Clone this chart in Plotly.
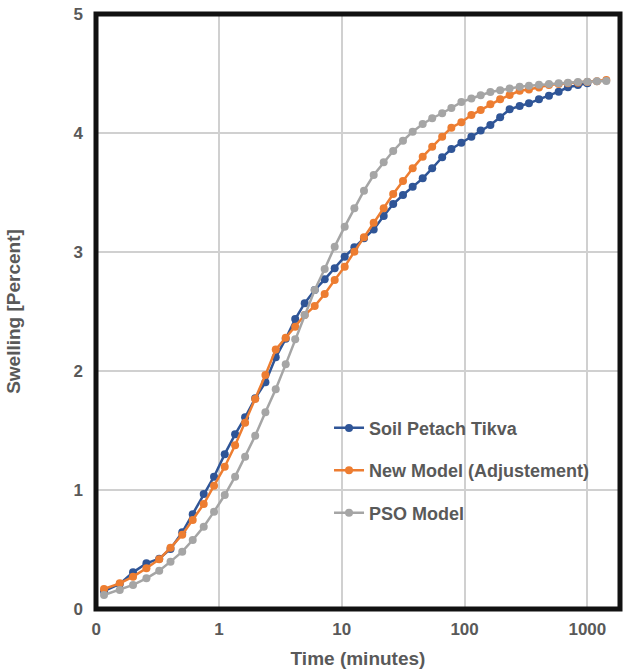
import plotly.graph_objects as go

# Time points (minutes)
time_min = [0.1157, 0.1554, 0.1994, 0.2563, 0.3258, 0.4027, 0.5017, 0.6107, 0.7506, 0.9106,
            1.113, 1.352, 1.631, 1.971, 2.387, 2.896, 3.493, 4.174, 4.988, 6.017,
            7.256, 8.753, 10.56, 12.66, 15.16, 18.19, 21.94, 26.22, 31.51, 37.79,
            45.60, 54.49, 65.70, 78.07, 94.17, 113.6, 135.3, 162.3, 194.9, 232.9,
            281.0, 334.5, 403.6, 486.8, 584.0, 695.1, 838.3, 1000, 1197, 1428]

soil = [0.15, 0.21, 0.308, 0.384, 0.423, 0.504, 0.645, 0.796, 0.966, 1.112,
        1.301, 1.468, 1.611, 1.77, 1.905, 2.115, 2.27, 2.437, 2.57, 2.68,
        2.77, 2.863, 2.961, 3.039, 3.115, 3.19, 3.303, 3.403, 3.479, 3.549,
        3.619, 3.703, 3.796, 3.866, 3.918, 3.969, 4.02, 4.067, 4.132, 4.199,
        4.227, 4.249, 4.283, 4.313, 4.347, 4.384, 4.403, 4.418]

new_model = [0.168, 0.216, 0.272, 0.342, 0.418, 0.515, 0.625, 0.748, 0.882, 1.036,
             1.196, 1.376, 1.566, 1.765, 1.966, 2.18, 2.28, 2.372, 2.47, 2.546,
             2.647, 2.765, 2.877, 3.003, 3.124, 3.246, 3.367, 3.487, 3.597, 3.703,
             3.801, 3.885, 3.969, 4.045, 4.09, 4.151, 4.193, 4.241, 4.283, 4.319,
             4.355, 4.366, 4.383, 4.403, 4.412, 4.418, 4.423, 4.429, 4.434, 4.445]

pso = [0.118, 0.16, 0.202, 0.258, 0.322, 0.398, 0.482, 0.58, 0.692, 0.818,
       0.958, 1.112, 1.28, 1.456, 1.653, 1.846, 2.056, 2.266, 2.47, 2.68,
       2.857, 3.045, 3.213, 3.367, 3.515, 3.647, 3.754, 3.849, 3.935, 4.011,
       4.076, 4.124, 4.166, 4.21, 4.26, 4.29, 4.318, 4.345, 4.36, 4.375,
       4.388, 4.397, 4.405, 4.412, 4.418, 4.423, 4.428, 4.431, 4.434, 4.437]

series_names = ["Soil Petach Tikva", "New Model (Adjustement)", "PSO Model"]
series_colors = ["#2F5597", "#ED7D31", "#A5A5A5"]

x_tickvals = [0.1, 1, 10, 100, 1000]
x_ticktext = ["0", "1", "10", "100", "1000"]
y_tickvals = [0, 1, 2, 3, 4, 5]

FONT = "Liberation Sans, Arial, sans-serif"
TXT = "#595959"

fig = go.Figure()
n_soil = len(soil)
data = [(time_min[:n_soil], soil), (time_min, new_model), (time_min, pso)]
for i, ((xs, ys), name, col) in enumerate(zip(data, series_names, series_colors)):
    fig.add_trace(go.Scatter(
        x=xs, y=ys, name=name, mode="lines+markers",
        line=dict(color=col, width=2.5),
        marker=dict(color=col, size=8),
        legendgroup=f"g{i}",
    ))

fig.update_layout(
    width=623, height=670,
    margin=dict(l=96, r=3, t=14, b=61),
    paper_bgcolor="white", plot_bgcolor="white",
    font=dict(family=FONT, color=TXT),
    showlegend=True,
    legend=dict(
        x=0.4447, y=0.335, xanchor="left", yanchor="top",
        bgcolor="rgba(0,0,0,0)",
        font=dict(family=FONT, size=18, color=TXT, weight="bold"),
        tracegroupgap=16,
    ),
    xaxis=dict(
        type="log", range=[-1.002, 3.266],
        tickvals=x_tickvals, ticktext=x_ticktext,
        tickfont=dict(family=FONT, size=17, color=TXT, weight="bold"),
        showgrid=True, gridcolor="#D0D0D0", gridwidth=1.5,
        zeroline=False, showline=False, ticks="",
        ticklabelstandoff=8,
        title=dict(text="Time (minutes)", standoff=13,
                   font=dict(family=FONT, size=19, color=TXT, weight="bold")),
    ),
    yaxis=dict(
        range=[0, 5], tickvals=y_tickvals,
        tickfont=dict(family=FONT, size=17, color=TXT, weight="bold"),
        showgrid=True, gridcolor="#D0D0D0", gridwidth=1.5,
        zeroline=False, showline=False, ticks="",
        ticklabelstandoff=12,
        title=dict(text="Swelling [Percent]", standoff=47,
                   font=dict(family=FONT, size=19, color=TXT, weight="bold")),
    ),
)
fig.add_shape(type="rect", xref="paper", yref="paper", x0=0, y0=0, x1=1, y1=1,
              line=dict(color="#111111", width=5), layer="above")

fig.write_html("out.html")
